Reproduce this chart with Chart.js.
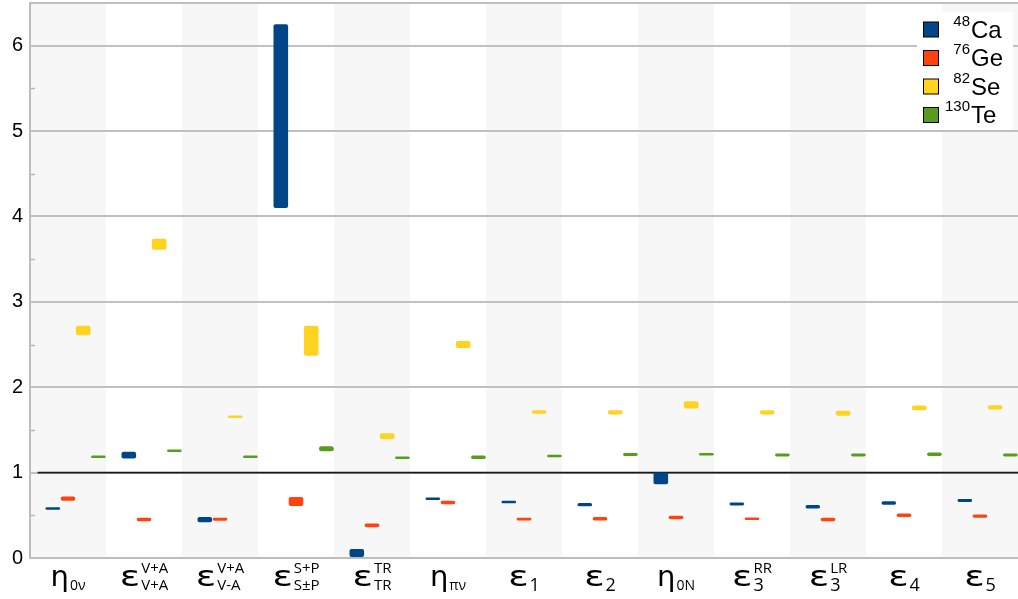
<!DOCTYPE html>
<html>
<head>
<meta charset="utf-8">
<script src="https://cdn.jsdelivr.net/npm/chart.js@4/dist/chart.umd.min.js"></script>
<style>
  html, body { margin: 0; padding: 0; background: #fff; }
  #wrap { width: 1018px; height: 599px; }
</style>
</head>
<body>
<div id="wrap"><canvas id="c" width="1018" height="599"></canvas></div>
<script>
// Category labels: base symbol, superscript, subscript
const labelBase = ['η', 'ε', 'ε', 'ε', 'ε', 'η', 'ε', 'ε', 'η', 'ε', 'ε', 'ε', 'ε'];
const labelSup  = ['', 'V+A', 'V+A', 'S+P', 'TR', '', '', '', '', 'RR', 'LR', '', ''];
const labelSub  = ['0ν', 'V+A', 'V-A', 'S±P', 'TR', 'πν', '1', '2', '0N', '3', '3', '4', '5'];

// Isotope names (mass number, element)
const isoMass = ['48', '76', '82', '130'];
const isoElem = ['Ca', 'Ge', 'Se', 'Te'];
const isoColors = ['#004586', '#ff420e', '#ffd320', '#579d1c'];

// Ranges [low, high] per category
const ca48 = [[0.565, 0.595], [1.165, 1.245], [0.42, 0.48], [4.10, 6.25], [0.0, 0.105], [0.68, 0.71], [0.64, 0.67],
              [0.605, 0.645], [0.865, 1.0], [0.615, 0.65], [0.58, 0.62], [0.625, 0.665], [0.655, 0.69]];
const ge76 = [[0.67, 0.72], [0.43, 0.47], [0.435, 0.47], [0.61, 0.715], [0.36, 0.405], [0.63, 0.67], [0.44, 0.47],
              [0.44, 0.48], [0.455, 0.495], [0.445, 0.475], [0.43, 0.47], [0.48, 0.52], [0.47, 0.51]];
const se82 = [[2.61, 2.72], [3.61, 3.74], [1.64, 1.67], [2.37, 2.72], [1.39, 1.46], [2.46, 2.54], [1.69, 1.73],
              [1.68, 1.73], [1.75, 1.835], [1.68, 1.73], [1.665, 1.725], [1.73, 1.785], [1.74, 1.79]];
const te130 = [[1.17, 1.20], [1.24, 1.27], [1.17, 1.20], [1.25, 1.31], [1.16, 1.19], [1.16, 1.20], [1.18, 1.21],
               [1.195, 1.23], [1.20, 1.23], [1.19, 1.225], [1.19, 1.225], [1.195, 1.235], [1.19, 1.225]];

const yTicks = [0, 1, 2, 3, 4, 5, 6];
const yMax = 6.5;
const refValue = 1;

const seriesData = [ca48, ge76, se82, te130];
const categories = labelBase.map((b, i) => b + labelSup[i] + labelSub[i]);

const datasets = [
  // empty leading slot in each category group
  { label: '', data: categories.map(() => null), backgroundColor: 'rgba(0,0,0,0)' }
].concat(seriesData.map((d, k) => ({
  label: isoMass[k] + isoElem[k],
  data: d,
  backgroundColor: isoColors[k],
  borderColor: isoColors[k],
  borderWidth: 0,
  borderRadius: 2,
  borderSkipped: false
})));

const bandsPlugin = {
  id: 'bands',
  beforeDraw(chart) {
    const { ctx, chartArea, scales } = chart;
    const x = scales.x;
    const w = (chartArea.right - chartArea.left) / categories.length;
    ctx.save();
    ctx.fillStyle = '#f7f7f7';
    categories.forEach((c, i) => {
      if (i % 2 === 0) {
        const cx = x.getPixelForValue(i);
        ctx.fillRect(cx - w / 2, chartArea.top, w, chartArea.bottom - chartArea.top);
      }
    });
    ctx.restore();
  },
  beforeDatasetsDraw(chart) {
    const { ctx, chartArea, scales } = chart;
    const y = scales.y;
    const slot = (chartArea.right - chartArea.left) / categories.length / datasets.length;
    ctx.save();
    // minor ticks at half units
    ctx.strokeStyle = '#b8b8b8';
    ctx.lineWidth = 1.5;
    for (let v = 0.5; v < yMax; v += 1) {
      const py = Math.round(y.getPixelForValue(v)) + 0.5;
      ctx.beginPath();
      ctx.moveTo(chartArea.left, py);
      ctx.lineTo(chartArea.left + 5, py);
      ctx.stroke();
    }
    // reference line
    const ry = y.getPixelForValue(refValue);
    ctx.strokeStyle = '#1a1a1a';
    ctx.lineWidth = 1.6;
    ctx.beginPath();
    ctx.moveTo(chartArea.left + slot / 2, ry);
    ctx.lineTo(chartArea.right, ry);
    ctx.stroke();
    ctx.restore();
  },
  afterDraw(chart) {
    const { ctx, scales } = chart;
    const x = scales.x;
    ctx.save();
    ctx.fillStyle = '#000';
    ctx.textAlign = 'left';
    ctx.textBaseline = 'alphabetic';
    const mainFont = '29px "DejaVu Sans"';
    const supFont = '15px "Open Sans"';
    categories.forEach((c, i) => {
      const base = labelBase[i];
      const sup = labelSup[i];
      const sub = labelSub[i];
      const numericSub = /^[0-9]$/.test(sub);
      const subFont = numericSub ? '18px "Open Sans"' : (base === 'η' ? '14px "Open Sans"' : '15px "Open Sans"');
      // the epsilon is drawn a little wider than the font's own glyph
      const stretch = base === 'ε' ? 1.3 : 1;
      ctx.font = mainFont;
      const mw = ctx.measureText(base).width * stretch;
      ctx.font = supFont;
      const sw = sup ? ctx.measureText(sup).width : 0;
      ctx.font = subFont;
      const bw = ctx.measureText(sub).width;
      const total = mw + 1 + Math.max(sw, bw);
      const cx = x.getPixelForValue(i);
      const sx = cx - total / 2;
      ctx.font = mainFont;
      ctx.save();
      ctx.translate(sx, 586);
      ctx.scale(stretch, 1);
      ctx.fillText(base, 0, 0);
      ctx.restore();
      if (sup) {
        ctx.font = supFont;
        ctx.fillText(sup, sx + mw + 1, 573);
      }
      ctx.font = subFont;
      ctx.fillText(sub, sx + mw + 1, numericSub ? 591 : 590);
    });

    // legend
    const lx = 917, ly = 12;
    ctx.fillStyle = '#fff';
    ctx.fillRect(lx, ly, 96, 118);
    isoElem.forEach((el, k) => {
      const top = 22 + k * 28.5;
      ctx.fillStyle = isoColors[k];
      ctx.fillRect(923.5, top, 15, 15);
      ctx.strokeStyle = '#000';
      ctx.lineWidth = 1;
      ctx.strokeRect(923.5, top, 15, 15);
      const base = top + 15.5;
      ctx.fillStyle = '#000';
      ctx.font = '15px "Liberation Sans"';
      ctx.textAlign = 'right';
      ctx.fillText(isoMass[k], 970, base - 12);
      ctx.font = '24px "Liberation Sans"';
      ctx.textAlign = 'left';
      ctx.fillText(el, 971, base);
    });
    ctx.restore();
  }
};

new Chart(document.getElementById('c'), {
  type: 'bar',
  data: { labels: categories, datasets },
  options: {
    responsive: false,
    animation: false,
    devicePixelRatio: 1,
    layout: { padding: { top: 3, right: 0, left: 0, bottom: 0 } },
    plugins: { legend: { display: false }, tooltip: { enabled: false } },
    datasets: { bar: { categoryPercentage: 1.0, barPercentage: 0.96, grouped: true } },
    scales: {
      x: {
        type: 'category',
        offset: true,
        grid: { display: false },
        border: { display: true, color: '#bdbdbd', width: 2 },
        ticks: { display: false },
        afterFit(scale) { scale.height = 41; scale.paddingLeft = 0; scale.paddingRight = 0; }
      },
      y: {
        min: 0,
        max: yMax,
        afterBuildTicks(scale) {
          scale.ticks = yTicks.map(v => ({ value: v })).concat([{ value: yMax }]);
        },
        ticks: {
          padding: 7,
          color: '#000',
          font: { family: '"Liberation Sans"', size: 20 },
          callback: (v) => (Number.isInteger(v) ? String(v) : '')
        },
        grid: { color: '#c0c0c0', lineWidth: 2, drawTicks: false },
        border: { display: true, color: '#bdbdbd', width: 2 },
        afterFit(scale) { scale.width = 30; scale.paddingTop = 0; scale.paddingBottom = 0; }
      }
    }
  },
  plugins: [bandsPlugin]
});
</script>
</body>
</html>
